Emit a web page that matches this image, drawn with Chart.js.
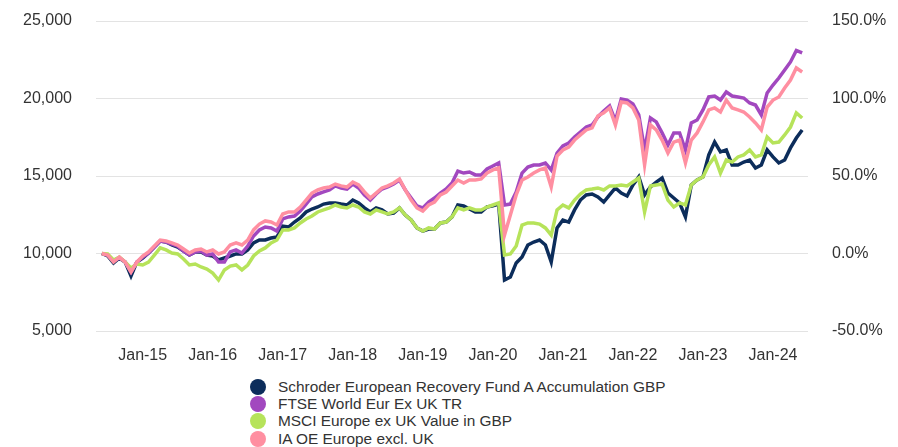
<!DOCTYPE html>
<html>
<head>
<meta charset="utf-8">
<script src="https://cdn.jsdelivr.net/npm/chart.js@4.4.1/dist/chart.umd.min.js"></script>
<style>
  html, body { margin: 0; padding: 0; background: #fff; }
  #wrap { position: relative; width: 898px; height: 447px; overflow: hidden; font-family: "Liberation Sans", Arial, sans-serif; }
  #chart { position: absolute; left: 0; top: 0; }
  #legend { position: absolute; left: 250px; top: 378px; margin: 0; padding: 0; list-style: none; }
  #legend li { height: 17.4px; font-size: 15.4px; color: #333; display: flex; align-items: center; white-space: nowrap; }
  #legend .dot { width: 16px; height: 16px; border-radius: 50%; margin-right: 12px; flex: none; }
</style>
</head>
<body>
<div id="wrap">
  <canvas id="chart" width="898" height="372"></canvas>
  <ul id="legend"></ul>
</div>
<script>
// monthly points, Jun-14 .. Jun-24
const MON = ["Jan","Feb","Mar","Apr","May","Jun","Jul","Aug","Sep","Oct","Nov","Dec"];
const months = [];
for (let i = 0; i < 121; i++) {
    const m = (5 + i) % 12, y = 14 + Math.floor((5 + i) / 12);
    months.push(MON[m] + "-" + y);
}
const xTickLabels = ["Jan-15","Jan-16","Jan-17","Jan-18","Jan-19","Jan-20","Jan-21","Jan-22","Jan-23","Jan-24"];
const seriesNames = [
    "Schroder European Recovery Fund A Accumulation GBP",
    "FTSE World Eur Ex UK TR",
    "MSCI Europe ex UK Value in GBP",
    "IA OE Europe excl. UK"
];
const seriesColors = ["#0c2d5b", "#a248bf", "#b6e35a", "#ff8fa1"];

const schroder = [10000, 9840, 9390, 9710, 9450, 8550, 9450, 9710, 10030, 10420,
    10810, 10740, 10550, 10420, 10160, 9900, 10100, 10100, 9900, 9840,
    9580, 9710, 9840, 9970, 9970, 10230, 10680, 10870, 10870, 11000,
    11060, 11770, 11710, 12030, 12290, 12680, 12870, 13000, 13190, 13260,
    13260, 13190, 13130, 13450, 13260, 12940, 12680, 12940, 12810, 12550,
    12610, 12940, 12480, 12160, 11650, 11450, 11580, 11580, 11970, 12030,
    12360, 13130, 13070, 12870, 12680, 12680, 13000, 13070, 13190, 8290,
    8480, 9390, 9770, 10550, 10740, 10870, 10550, 9450, 11650, 12160,
    12030, 12810, 13450, 13780, 13840, 13650, 13320, 13780, 14230, 13900,
    13710, 14420, 14940, 13780, 14290, 14610, 14870, 13900, 13580, 13260,
    12360, 14420, 14740, 14940, 16360, 17190, 16550, 16680, 15710, 15710,
    15900, 16030, 15520, 15710, 16680, 16230, 15840, 16030, 16810, 17450, 17970];

const ftse = [10000, 9900, 9520, 9710, 9450, 8810, 9450, 9770, 10030, 10420,
    10810, 10740, 10610, 10480, 10160, 9900, 10100, 10160, 9900, 9970,
    9450, 9450, 10100, 10230, 10030, 10480, 11130, 11520, 11710, 11650,
    11450, 12230, 12360, 12420, 12740, 13190, 13650, 13840, 13970, 14100,
    14360, 14230, 14160, 14480, 14230, 13780, 13450, 13840, 14160, 14290,
    14480, 14740, 14100, 13580, 13070, 12940, 13320, 13580, 13900, 14160,
    14550, 15320, 15190, 15260, 15070, 15070, 15450, 15650, 15840, 13130,
    13190, 13970, 15190, 15580, 15710, 15710, 15840, 15390, 16480, 16940,
    17130, 17520, 17840, 18160, 18290, 18810, 19190, 19520, 18550, 19970,
    19900, 19650, 18940, 16680, 18740, 18490, 17780, 17000, 17780, 17780,
    16680, 18420, 18610, 19260, 20100, 20160, 19900, 20420, 20160, 20100,
    20030, 19710, 19580, 18940, 20360, 20870, 21320, 21840, 22360, 23100, 22940];

const msciValue = [10000, 9970, 9580, 9770, 9450, 9070, 9320, 9260, 9450, 9900,
    10360, 10230, 10030, 9970, 9650, 9260, 9320, 9130, 9000, 8740,
    8290, 8940, 9190, 9260, 8940, 9260, 9840, 10160, 10360, 10680,
    10870, 11520, 11520, 11650, 11970, 12230, 12420, 12680, 12810, 12940,
    13130, 13000, 12940, 13130, 13000, 12680, 12550, 12810, 12680, 12550,
    12680, 12940, 12480, 12160, 11650, 11450, 11650, 11580, 11970, 12030,
    12360, 12940, 12810, 12940, 12810, 12810, 13000, 13130, 13260, 9900,
    9970, 10480, 11840, 11970, 11970, 11900, 11650, 11190, 12810, 13130,
    12940, 13450, 13840, 14100, 14160, 14230, 14100, 14360, 14360, 14420,
    14360, 14610, 14870, 12680, 14360, 14420, 14480, 13450, 13000, 13260,
    13130, 14420, 14740, 14940, 15710, 16230, 15190, 16030, 15900, 16230,
    16360, 16680, 16230, 16360, 17520, 17130, 17190, 17650, 18160, 19070, 18740];

const iaSector = [10000, 9900, 9450, 9770, 9450, 8810, 9450, 9840, 10100, 10480,
    10870, 10810, 10680, 10550, 10290, 10030, 10230, 10290, 10100, 10230,
    9970, 10100, 10550, 10680, 10550, 10870, 11520, 11900, 12100, 12030,
    11840, 12550, 12680, 12680, 13000, 13450, 13900, 14100, 14230, 14290,
    14480, 14360, 14290, 14610, 14420, 13970, 13580, 13900, 14230, 14360,
    14550, 14810, 14100, 13450, 12940, 12740, 13130, 13320, 13780, 13970,
    14360, 14740, 14550, 14740, 14740, 14810, 15190, 15390, 15520, 11190,
    12480, 13780, 14740, 14940, 15190, 15390, 15520, 14290, 16290, 16680,
    16870, 17320, 17650, 17970, 18100, 18870, 19070, 19390, 18290, 19770,
    19710, 19390, 18610, 15710, 18290, 17970, 17320, 16480, 17190, 17320,
    15840, 17320, 17780, 18490, 19260, 19390, 19130, 19900, 19390, 19260,
    19130, 18810, 18420, 17970, 19450, 19900, 20100, 20680, 21190, 21970, 21710];

const allSeries = [schroder, ftse, msciValue, iaSector];
const drawOrder = [4, 3, 2, 1]; // pink on top, navy at the bottom

const FONT = "'Liberation Sans', Arial, sans-serif";
const TEXT = "#333333";

const datasets = allSeries.map((vals, k) => ({
    label: seriesNames[k],
    data: vals.map((v, i) => ({ x: i, y: v })),
    borderColor: seriesColors[k],
    backgroundColor: seriesColors[k],
    borderWidth: 3.5,
    pointRadius: 0,
    tension: 0,
    fill: false,
    order: drawOrder[k],
    yAxisID: "y"
}));

// fixed axis boxes so the plot sits where the reference has it
function fixVertical(width) {
    return (scale) => {
        scale.width = width;
        scale.paddingTop = 10;
        scale.paddingBottom = 10;
    };
}

const ctx = document.getElementById("chart").getContext("2d");
const chart = new Chart(ctx, {
    type: "line",
    data: { datasets: datasets },
    options: {
        responsive: false,
        animation: false,
        layout: { padding: { top: 21, right: 0, bottom: 0, left: 0 } },
        plugins: { legend: { display: false }, tooltip: { enabled: false } },
        scales: {
            x: {
                type: "linear",
                min: -1,
                max: months.length,
                grid: { display: false, drawTicks: false },
                border: { display: false },
                afterBuildTicks: (scale) => {
                    scale.ticks = xTickLabels.map(l => ({ value: months.indexOf(l) }));
                },
                afterFit: (scale) => { scale.height = 41; },
                ticks: {
                    autoSkip: false,
                    maxRotation: 0,
                    padding: 15,
                    color: TEXT,
                    font: { family: FONT, size: 16 },
                    callback: (v) => months[v]
                }
            },
            y: {
                position: "left",
                min: 5000,
                max: 25000,
                afterFit: fixVertical(96),
                grid: { color: "#e3e3e3", lineWidth: 1, drawTicks: false },
                border: { display: false },
                ticks: {
                    stepSize: 5000,
                    padding: 24,
                    color: TEXT,
                    font: { family: FONT, size: 16 },
                    callback: (v) => v.toLocaleString("en-GB")
                }
            },
            y1: {
                position: "right",
                min: -50,
                max: 150,
                afterFit: fixVertical(90),
                grid: { display: false, drawTicks: false },
                border: { display: false },
                ticks: {
                    stepSize: 50,
                    padding: 24,
                    color: TEXT,
                    font: { family: FONT, size: 16 },
                    callback: (v) => v.toFixed(1) + "%"
                }
            }
        }
    }
});

// legend below the chart, one entry per line
const legend = document.getElementById("legend");
chart.data.datasets.forEach(ds => {
    const li = document.createElement("li");
    const dot = document.createElement("span");
    dot.className = "dot";
    dot.style.background = ds.borderColor;
    li.appendChild(dot);
    li.appendChild(document.createTextNode(ds.label));
    legend.appendChild(li);
});
</script>
</body>
</html>
